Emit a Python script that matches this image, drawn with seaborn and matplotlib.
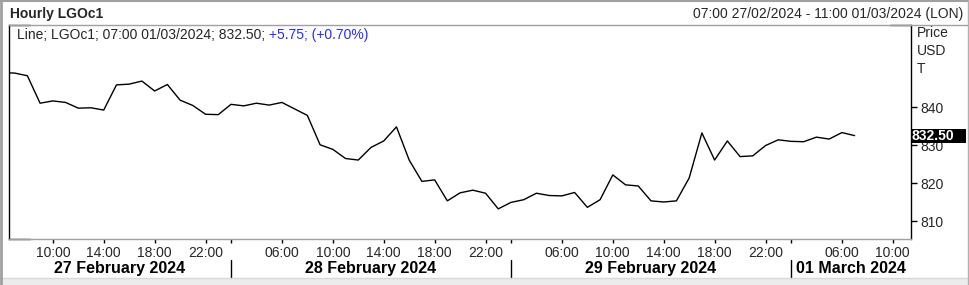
import numpy as np
import pandas as pd
import matplotlib
matplotlib.use("Agg")
import matplotlib.pyplot as plt
import matplotlib.transforms as mtransforms
from matplotlib.lines import Line2D
from matplotlib.patches import Rectangle
import seaborn as sns

# ---------------- data ----------------
title = "Hourly LGOc1"
date_range_text = "07:00 27/02/2024 - 11:00 01/03/2024 (LON)"
legend_black = "Line; LGOc1; 07:00 01/03/2024; 832.50; "
legend_blue = "+5.75; (+0.70%)"
unit_labels = ["Price", "USD", "T"]
last_label = "832.50"
last_value = 832.50

day_names = ["27 February 2024", "28 February 2024", "29 February 2024", "01 March 2024"]
day_dates = ["2024-02-27", "2024-02-28", "2024-02-29", "2024-03-01"]
session_hours = list(range(2, 24))          # hours shown per day (00:00-01:59 not traded)
start_time = "2024-02-27 06:00"
end_time = "2024-03-01 07:00"

prices_27 = [849.0, 848.9, 848.2, 841.0, 841.6, 841.2, 839.7, 839.8, 839.2, 845.8,
             846.0, 846.8, 844.2, 845.9, 841.8, 840.4, 838.1, 838.0]
prices_28 = [840.7, 840.3, 841.0, 840.5, 841.2, 839.5, 837.8, 830.1, 828.9, 826.5,
             826.1, 829.4, 831.1, 834.8, 826.1, 820.5, 820.9, 815.4, 817.5, 818.2,
             817.4, 813.3]
prices_29 = [815.0, 815.7, 817.4, 816.8, 816.7, 817.6, 813.7, 815.7, 822.2, 819.6,
             819.3, 815.4, 815.1, 815.4, 821.4, 833.2, 826.1, 831.1, 827.0, 827.2,
             829.9, 831.4]
prices_01 = [831.0, 830.9, 832.1, 831.6, 833.3, 832.5]

hour_ticks = [["10:00", "14:00", "18:00", "22:00"],
              ["06:00", "10:00", "14:00", "18:00", "22:00"],
              ["06:00", "10:00", "14:00", "18:00", "22:00"],
              ["06:00", "10:00"]]
price_ticks = [810, 820, 830, 840]

# ---------------- build table ----------------
times = pd.date_range(start_time, end_time, freq="h")
times = times[times.hour >= session_hours[0]]
day_idx = np.array([day_dates.index(t.strftime("%Y-%m-%d")) for t in times])
n_per_day = len(session_hours)
pos = day_idx * n_per_day + (times.hour.values - session_hours[0])
prices = prices_27 + prices_28 + prices_29 + prices_01
df = pd.DataFrame({"pos": pos, "price": prices})

# ---------------- figure ----------------
sns.set_theme(style="white")
plt.rcParams['font.family'] = ['Liberation Sans', 'DejaVu Sans']

W, H = 969, 285
fig = plt.figure(figsize=(W / 100, H / 100), dpi=100)
fig.patch.set_facecolor("white")

axL, axR, axT, axB = 9, 911, 25, 239
ax = fig.add_axes([axL / W, 1 - axB / H, (axR - axL) / W, (axB - axT) / H])

sns.lineplot(data=df, x="pos", y="price", color="black", linewidth=1.0, ax=ax)

ax.set_xlim(4.557, 75.43)
ax.set_ylim(805.4, 861.5)
ax.set_xlabel("")
ax.set_ylabel("")

major_pos, major_lab = [], []
for d, labs in enumerate(hour_ticks):
    for lab in labs:
        major_pos.append(d * n_per_day + int(lab[:2]) - session_hours[0])
        major_lab.append(lab)
ax.set_xticks(major_pos, major_lab)
ax.set_xticks([d * n_per_day for d in range(1, len(day_names))], minor=True)
ax.tick_params(axis="x", which="both", direction="out", length=3, width=1,
               color="black", labelsize=10, pad=2, bottom=True)

ax.yaxis.tick_right()
ax.set_yticks(price_ticks, [str(v) for v in price_ticks])
ax.tick_params(axis="y", direction="out", length=4.5, width=1, color="black",
               labelsize=10, pad=2, right=True, left=False)

for s in ["top", "bottom"]:
    ax.spines[s].set_color("#a0a0a0")
    ax.spines[s].set_linewidth(1)
for s in ["left", "right"]:
    ax.spines[s].set_color("black")
    ax.spines[s].set_linewidth(1)

# short black corner pieces of the frame
axw = axR - axL
for (x0, x1, y) in [(0, 21 / axw, 0), (0, 21 / axw, 1), (1 - 21 / axw, 1, 1)]:
    ax.add_line(Line2D([x0, x1], [y, y], transform=ax.transAxes, color="black",
                       lw=1, clip_on=False))

# day labels and dividers
bt = mtransforms.blended_transform_factory(ax.transData, fig.transFigure)
xmin, xmax = ax.get_xlim()
for d, name in enumerate(day_names):
    a = max(d * n_per_day, xmin)
    b = min((d + 1) * n_per_day, xmax)
    ax.text((a + b) / 2, 1 - 273.3 / H, name, transform=bt, ha="center",
            va="baseline", fontsize=11.5, fontweight="bold", color="black")
for d in range(1, len(day_names)):
    ax.add_line(Line2D([d * n_per_day] * 2, [1 - 260 / H, 1 - 278 / H], transform=bt,
                       color="black", lw=1, clip_on=False))

# header texts
fig.text(10 / W, 1 - 14 / H, title, fontsize=10, fontweight="bold", va="center", ha="left")
fig.text(963 / W, 1 - 14 / H, date_range_text, fontsize=10, va="center", ha="right")
t1 = fig.text(17 / W, 1 - 35 / H, legend_black, fontsize=10, va="center", ha="left")
fig.canvas.draw()
bb = t1.get_window_extent()
fig.text(bb.x1 / W, 1 - 35 / H, legend_blue, fontsize=10, va="center", ha="left",
         color="#2b2bff")

for i, lab in enumerate(unit_labels):
    fig.text(917 / W, 1 - (33 + 18 * i) / H, lab, fontsize=10, va="center", ha="left")

# last value box
lt = mtransforms.blended_transform_factory(fig.transFigure, ax.transData)
half = 7 / ((axB - axT) / (861.5 - 805.4))
fig.add_artist(Rectangle((911 / W, last_value - half), 55 / W, 2 * half, transform=lt,
                         facecolor="black", edgecolor="none", zorder=5))
fig.add_artist(matplotlib.text.Text(911.5 / W, last_value, last_label, transform=lt,
                                    color="white", fontweight="bold", fontsize=10,
                                    va="center", ha="left", zorder=6))

# outer decorations
fig.add_artist(Line2D([axR / W, 968 / W], [1 - axT / H, 1 - axT / H],
                      transform=fig.transFigure, color="#a0a0a0", lw=1))
fig.add_artist(Rectangle((0, 0), 1, 7 / H, transform=fig.transFigure,
                         facecolor="#ececec", edgecolor="none", zorder=0))
fig.add_artist(Line2D([0, 1], [7.5 / H, 7.5 / H], transform=fig.transFigure,
                      color="#d8d8d8", lw=1))
fig.add_artist(Line2D([1 / W, 1 / W], [0, 1], transform=fig.transFigure,
                      color="#a0a0a0", lw=2))
fig.add_artist(Line2D([0, 1], [1 - 0.5 / H, 1 - 0.5 / H], transform=fig.transFigure,
                      color="#a0a0a0", lw=1.5))
fig.add_artist(Line2D([967.5 / W, 967.5 / W], [0, 1], transform=fig.transFigure,
                      color="#b0b0b0", lw=1))

fig.savefig("out.png", dpi=100, facecolor="white")
